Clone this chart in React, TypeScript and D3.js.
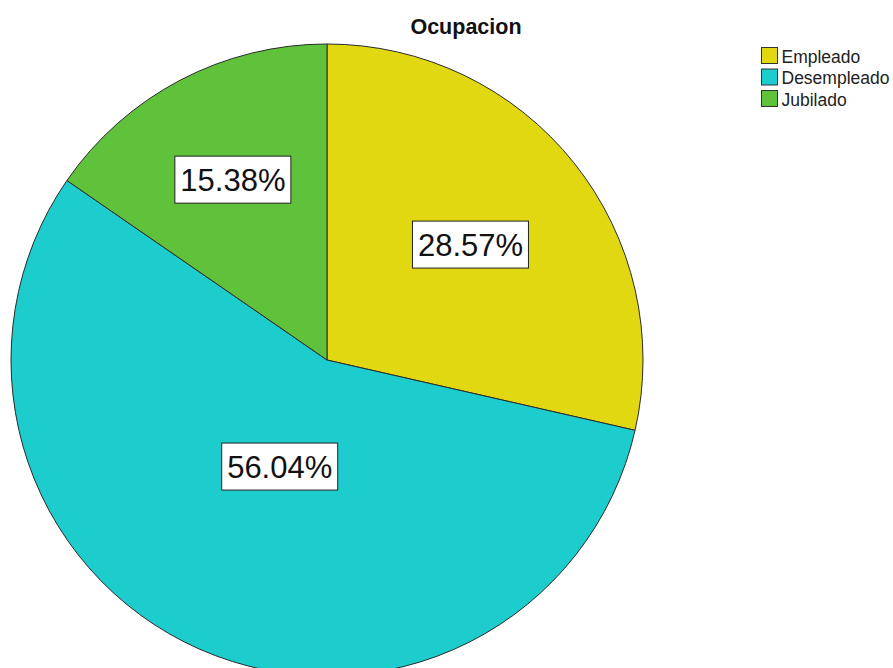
import React from "react";
import * as d3 from "d3";

const categories = ["Empleado", "Desempleado", "Jubilado"];
const values = [26, 51, 14];
const percentLabels = ["28.57%", "56.04%", "15.38%"];
const colors = ["#e2d811", "#1dcccc", "#60c23b"];
const title = "Ocupacion";

const W = 893;
const H = 668;
const cx = 327;
const cy = 360;
const R = 316;

export default function App() {
  const pie = d3
    .pie<number>()
    .sort(null)
    .value((d) => d);
  const arcs = pie(values);
  const arcGen = d3.arc<d3.PieArcDatum<number>>().innerRadius(0).outerRadius(R);

  const font = "Arial, 'Liberation Sans', sans-serif";

  return (
    <svg
      width={W}
      height={H}
      style={{ position: "absolute", left: 0, top: 0, background: "#fff" }}
    >
      <g transform={`translate(${cx},${cy})`}>
        {arcs.map((a, i) => (
          <path
            key={i}
            d={arcGen(a) || ""}
            fill={colors[i]}
            stroke="#2a2a2a"
            strokeWidth={1}
          />
        ))}
        {arcs.map((a, i) => {
          const theta = a.endAngle - a.startAngle;
          const mid = (a.startAngle + a.endAngle) / 2;
          const dist = (4 * R * Math.sin(theta / 2)) / (3 * theta);
          const x = dist * Math.sin(mid);
          const y = -dist * Math.cos(mid);
          const bw = 116;
          const bh = 47;
          return (
            <g key={"l" + i} transform={`translate(${x},${y - 1})`}>
              <rect
                x={-bw / 2}
                y={-bh / 2}
                width={bw}
                height={bh}
                fill="#fff"
                stroke="#222"
                strokeWidth={1}
              />
              <text
                x={0}
                y={11}
                textAnchor="middle"
                fontFamily={font}
                fontSize={31}
                fill="#111"
              >
                {percentLabels[i]}
              </text>
            </g>
          );
        })}
      </g>
      <text
        x={466}
        y={34}
        textAnchor="middle"
        fontFamily={font}
        fontWeight="bold"
        fontSize={21.5}
        fill="#111"
      >
        {title}
      </text>
      <g>
        {categories.map((c, i) => (
          <g key={c} transform={`translate(761.5,${47.5 + i * 21.5})`}>
            <rect
              x={0}
              y={0}
              width={16}
              height={16}
              fill={colors[i]}
              stroke="#333"
              strokeWidth={1}
            />
            <text
              x={20}
              y={15}
              fontFamily={font}
              fontSize={17.5}
              fill="#222"
            >
              {c}
            </text>
          </g>
        ))}
      </g>
    </svg>
  );
}
